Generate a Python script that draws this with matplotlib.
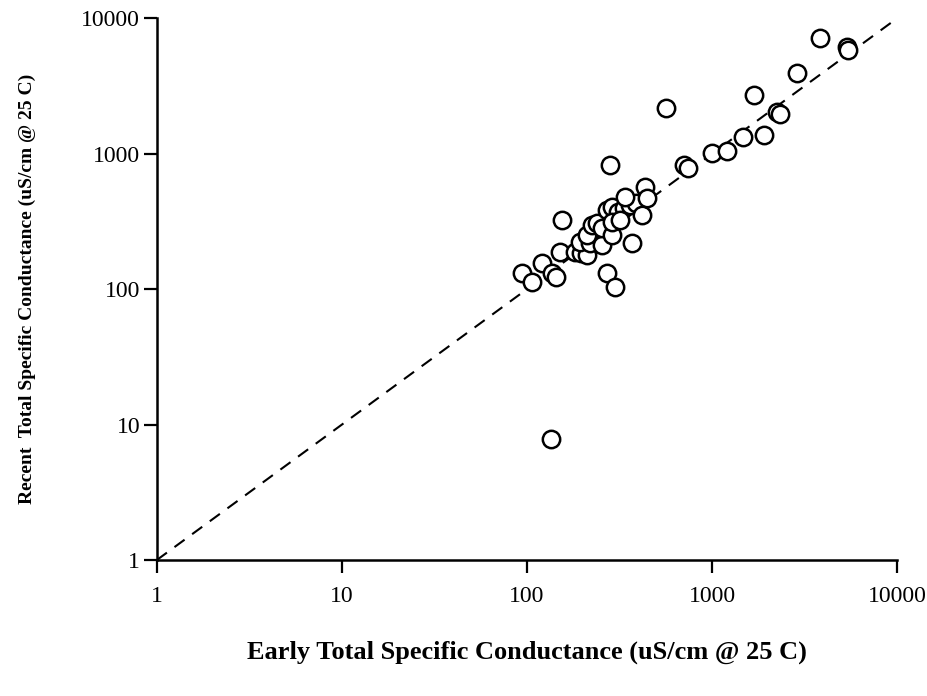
import numpy as np
import matplotlib
matplotlib.use("Agg")
import matplotlib.pyplot as plt

# early vs recent specific conductance (uS/cm @ 25 C)
early = [135, 94, 106, 120, 137, 144, 155, 151, 182, 196, 211, 193, 219, 254,
         211, 224, 239, 254, 288, 271, 299, 370, 281, 271, 288, 310, 334, 360,
         388, 288, 318, 339, 418, 434, 445, 564, 706, 742, 1000, 1205, 1472,
         1910, 2245, 2333, 1687, 2880, 3837, 5370, 5433]
recent = [7.8, 131, 113, 156, 131, 123, 323, 188, 188, 184, 178, 222, 218, 211,
          250, 297, 307, 282, 250, 131, 103, 218, 822, 383, 403, 370, 396, 417,
          431, 312, 323, 478, 352, 566, 470, 2168, 822, 782, 1009, 1043, 1324,
          1370, 2025, 1955, 2703, 3926, 7117, 6109, 5806]

# 1:1 reference line
ref = [1, 10000]

ticks = [1, 10, 100, 1000, 10000]
tick_labels = ["1", "10", "100", "1000", "10000"]

plt.rcParams['font.family'] = ['Liberation Serif', 'DejaVu Serif']

fig = plt.figure(figsize=(9.28, 6.96), dpi=100)
ax = fig.add_axes([0.169, 0.1954, 0.798, 0.7786])

ax.plot(ref, ref, color='black', lw=1.5, dashes=(6, 4.5), zorder=1)
ax.plot(early, recent, 'o', mfc='white', mec='black', ms=12.5, mew=1.8,
        linestyle='none', zorder=2)

ax.set_xscale('log')
ax.set_yscale('log')
ax.set_xlim(1, 10000)
ax.set_ylim(1, 10000)
ax.minorticks_off()
ax.set_xticks(ticks)
ax.set_xticklabels(tick_labels)
ax.set_yticks(ticks)
ax.set_yticklabels(tick_labels)

for s in ['top', 'right']:
    ax.spines[s].set_visible(False)
for s in ['left', 'bottom']:
    ax.spines[s].set_linewidth(1.8)

ax.tick_params(axis='both', which='major', direction='out', length=9.5,
               width=1.6, labelsize=17)
ax.tick_params(axis='x', pad=9)
ax.tick_params(axis='y', pad=2.5)

ax.set_xlabel('Early Total Specific Conductance (uS/cm @ 25 C)',
              fontsize=19, fontweight='bold')
ax.set_ylabel('Recent  Total Specific Conductance (uS/cm @ 25 C)',
              fontsize=14, fontweight='bold')
ax.xaxis.set_label_coords(0.5, -0.148)
ax.yaxis.set_label_coords(-0.163, 0.5)

fig.savefig('out.png', dpi=100)
